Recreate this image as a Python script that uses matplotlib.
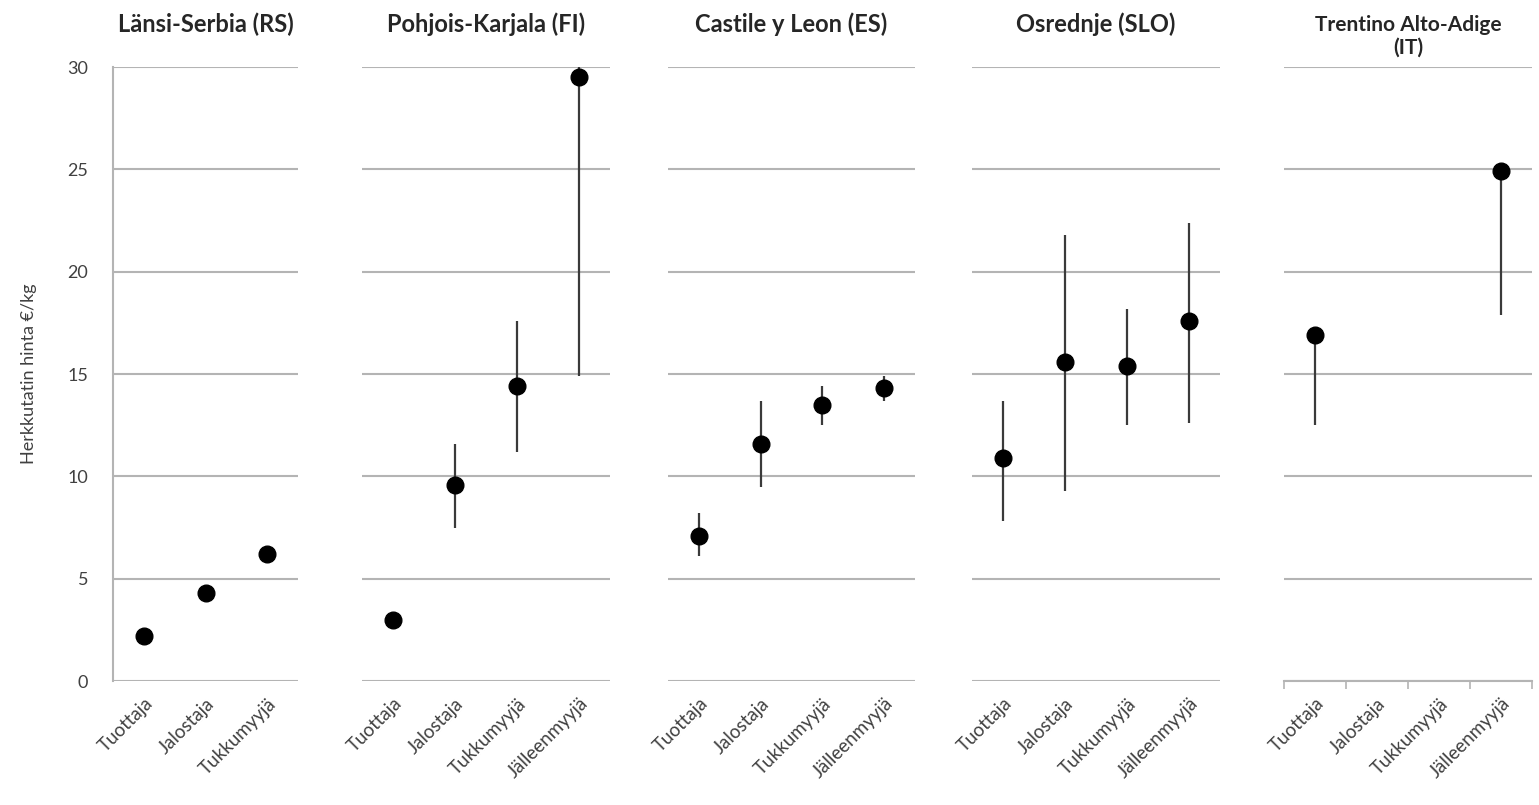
import numpy as np
import matplotlib.pyplot as plt

plt.rcParams['font.family'] = ['Lato', 'DejaVu Sans']

cats3 = ['Tuottaja', 'Jalostaja', 'Tukkumyyjä']
cats4 = ['Tuottaja', 'Jalostaja', 'Tukkumyyjä', 'Jälleenmyyjä']

titles = ['Länsi-Serbia (RS)', 'Pohjois-Karjala (FI)', 'Castile y Leon (ES)',
          'Osrednje (SLO)', 'Trentino Alto-Adige\n(IT)']

nan = np.nan
# mean price and low / high ends of the range, per region
rs_val = [2.2, 4.3, 6.2]
rs_lo = [2.2, 4.3, 6.2]
rs_hi = [2.2, 4.3, 6.2]

fi_val = [3.0, 9.6, 14.4, 29.5]
fi_lo = [3.0, 7.5, 11.2, 14.9]
fi_hi = [3.0, 11.6, 17.6, 30.0]

es_val = [7.1, 11.6, 13.5, 14.3]
es_lo = [6.1, 9.5, 12.5, 13.7]
es_hi = [8.2, 13.7, 14.4, 14.9]

slo_val = [10.9, 15.6, 15.4, 17.6]
slo_lo = [7.8, 9.3, 12.5, 12.6]
slo_hi = [13.7, 21.8, 18.2, 22.4]

it_val = [16.9, nan, nan, 24.9]
it_lo = [12.5, nan, nan, 17.9]
it_hi = [16.9, nan, nan, 24.9]

panels = [(cats3, rs_val, rs_lo, rs_hi),
          (cats4, fi_val, fi_lo, fi_hi),
          (cats4, es_val, es_lo, es_hi),
          (cats4, slo_val, slo_lo, slo_hi),
          (cats4, it_val, it_lo, it_hi)]

fig = plt.figure(figsize=(15.39, 8.05), dpi=100)

W = 1539.0
H = 805.0
lefts = [113, 362, 668, 972, 1284]
widths = [185, 248, 247, 248, 248]
bottom = 1 - 681 / H
height = (681 - 67) / H

grid_c = '#b4b4b4'
txt_c = '#404040'

for i, (cats, val, lo, hi) in enumerate(panels):
    ax = fig.add_axes([lefts[i] / W, bottom, widths[i] / W, height])
    x = np.arange(len(cats))
    ax.vlines(x, lo, hi, color='#3a3a3a', lw=1.6, zorder=2)
    ax.plot(x, val, 'o', color='black', ms=12, zorder=3, linestyle='none')
    ax.set_ylim(0, 30)
    ax.set_xlim(-0.5, len(cats) - 0.5)
    ax.set_yticks(range(0, 31, 5))
    ax.yaxis.grid(True, color=grid_c, lw=1.5)
    ax.set_axisbelow(True)
    for s in ['top', 'right', 'bottom', 'left']:
        ax.spines[s].set_visible(False)
    ax.set_xticks(x)
    ax.set_xticklabels(cats, rotation=45, ha='right', rotation_mode='anchor',
                       fontsize=13.5, color=txt_c)
    ax.tick_params(axis='x', length=0, pad=10)
    if i == 0:
        ax.spines['left'].set_visible(True)
        ax.spines['left'].set_color(grid_c)
        ax.spines['left'].set_linewidth(1.5)
        ax.tick_params(axis='y', length=0, pad=18, labelsize=13, labelcolor=txt_c)
        ax.set_ylabel('Herkkutatin hinta €/kg', fontsize=13, color=txt_c, labelpad=22)
    else:
        ax.tick_params(axis='y', length=0, labelleft=False)
    if i == 4:
        ax.set_xticks(np.arange(-0.5, len(cats), 1.0), minor=True)
        ax.tick_params(axis='x', which='minor', length=6, color=grid_c, width=1.2)
        ax.spines['bottom'].set_visible(True)
        ax.spines['bottom'].set_color(grid_c)
        ax.spines['bottom'].set_linewidth(1.5)
        ax.text(0.5, 1.05, titles[i], transform=ax.transAxes, ha='center', va='center',
                fontsize=15, fontweight='bold', color='#262626', linespacing=1.15)
    else:
        ax.text(0.5, 1.07, titles[i], transform=ax.transAxes, ha='center', va='center',
                fontsize=17, fontweight='bold', color='#262626')

fig.savefig('out.png', dpi=100)
